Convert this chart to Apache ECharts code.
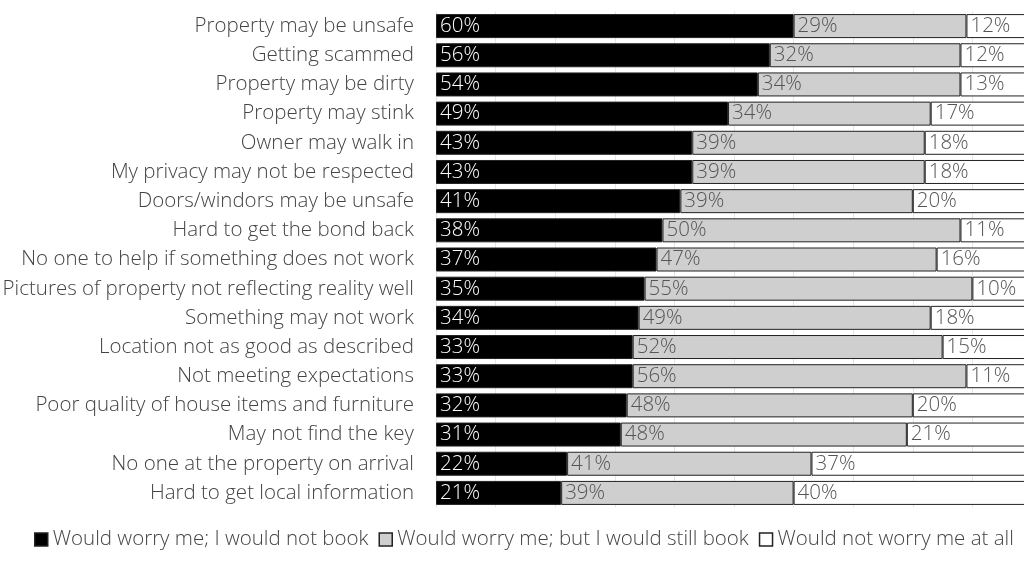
<!DOCTYPE html>
<html><head><meta charset="utf-8">
<script src="https://cdn.jsdelivr.net/npm/echarts@6/dist/echarts.min.js"></script>
<style>html,body{margin:0;padding:0;background:#fff}#c{width:1024px;height:570px}</style>
</head><body><div id="c"></div>
<script>
const categories = ["Property may be unsafe","Getting scammed","Property may be dirty","Property may stink","Owner may walk in","My privacy may not be respected","Doors/windors may be unsafe","Hard to get the bond back","No one to help if something does not work","Pictures of property not reflecting reality well","Something may not work","Location not as good as described","Not meeting expectations","Poor quality of house items and furniture","May not find the key","No one at the property on arrival","Hard to get local information"];
const notBook = [60,56,54,49,43,43,41,38,37,35,34,33,33,32,31,22,21];
const stillBook = [29,32,34,34,39,39,39,50,47,55,49,52,56,48,48,41,39];
const notWorry = [12,12,13,17,18,18,20,11,16,10,18,15,11,20,21,37,40];
const seriesNames = ["Would worry me; I would not book","Would worry me; but I would still book","Would not worry me at all"];

const FONT = "'Open Sans', 'Noto Sans', sans-serif";
const chart = echarts.init(document.getElementById('c'), null, {renderer:'canvas'});
function mk(name, data, color, textColor){
  return {
    name, type:'bar', stack:'a', data, barWidth:24,
    itemStyle:{color, borderColor:'#222', borderWidth:1},
    label:{show:true, position:'insideLeft', distance:4, formatter:'{c}%', color:textColor, fontFamily:FONT, fontWeight:300, fontSize:20.5},
    emphasis:{disabled:true}
  };
}
chart.setOption({
  animation:false,
  grid:{left:436, top:11.5, width:596, height:496, containLabel:false, outerBoundsMode:'none'},
  legend:{bottom:20, left:34, width:1000, padding:0, itemWidth:13, itemHeight:13, itemGap:10,
    textStyle:{fontFamily:FONT, fontWeight:300, fontSize:20.5, color:'#444'},
    data:seriesNames.map((n,i)=>({name:n, icon:'rect', itemStyle:{borderColor:'#222', borderWidth:1.5}}))},
  xAxis:{type:'value', min:0, max:100, interval:10, axisLabel:{show:false}, axisLine:{show:false}, axisTick:{show:false},
    splitLine:{lineStyle:{color:'#e6e6e6', width:1}}},
  yAxis:{type:'category', data:categories, inverse:true, axisLine:{show:false}, axisTick:{show:false},
    axisLabel:{margin:22, fontFamily:FONT, fontWeight:300, fontSize:20.5, color:'#444'}},
  series:[
    mk(seriesNames[0], notBook, '#000', '#fff'),
    mk(seriesNames[1], stillBook, '#d0cfcf', '#555'),
    mk(seriesNames[2], notWorry, '#fff', '#555')
  ]
});
</script></body></html>
